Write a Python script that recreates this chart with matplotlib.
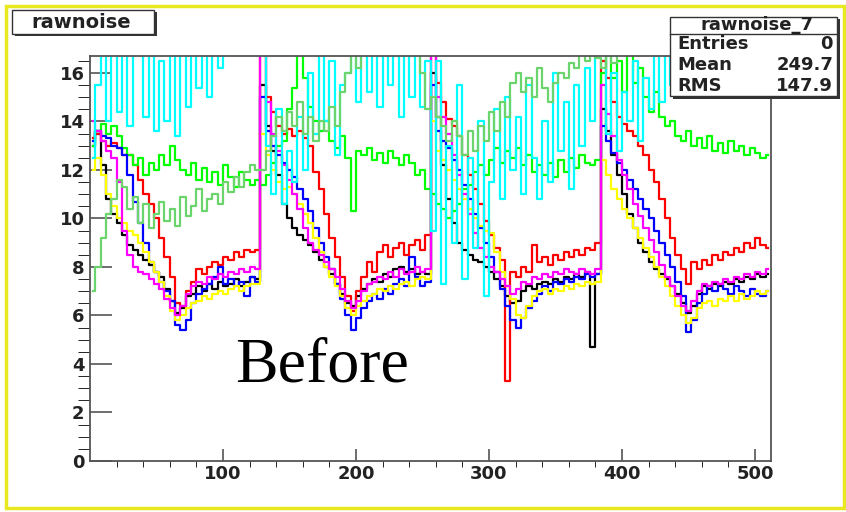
import numpy as np
import matplotlib.pyplot as plt
from matplotlib.patches import Rectangle

# bin centres, 4 strips per bin, 512 strips
channel = np.arange(2, 512, 4)

# one value per bin, four chips of 32 bins each
black = (
    [13.0, 13.6, 12.2, 10.8, 10.2, 9.8, 9.3, 8.9, 8.7, 8.5, 8.3, 8.1, 7.8, 7.6, 7.1, 6.6,
     6.1, 6.3, 6.8, 6.9, 7.2, 7.0, 7.3, 7.1, 7.4, 7.2, 7.3, 7.5, 7.2, 7.4, 7.6, 7.5]
    + [15.5, 13.8, 12.8, 11.8, 10.6, 10.0, 9.6, 9.3, 9.1, 8.9, 8.6, 8.3, 8.0, 7.7, 7.3, 6.9,
       6.5, 6.4, 6.8, 7.1, 7.3, 7.5, 7.4, 7.7, 7.6, 7.9, 8.0, 7.8, 7.9, 7.7, 7.8, 7.7]
    + [16.0, 14.2, 12.2, 10.8, 9.8, 9.0, 8.7, 8.5, 8.3, 8.2, 8.0, 7.8, 7.5, 7.2, 6.8, 6.5,
       6.6, 7.0, 7.2, 7.1, 7.3, 7.4, 7.3, 7.5, 7.4, 7.6, 7.5, 7.7, 7.6, 7.8, 4.7, 7.7]
    + [14.5, 13.6, 12.6, 11.8, 11.0, 10.2, 9.6, 9.0, 8.6, 8.2, 7.9, 7.7, 7.5, 7.2, 6.9, 6.5,
       6.1, 6.4, 6.9, 7.2, 7.1, 7.3, 7.2, 7.4, 7.3, 7.5, 7.4, 7.6, 7.5, 7.7, 7.6, 7.7]
)
red = (
    [13.3, 13.5, 13.2, 13.0, 13.1, 12.9, 12.6, 12.6, 12.2, 11.6, 11.0, 10.6, 10.0, 9.2, 8.4, 7.6,
     6.5, 6.4, 7.0, 7.4, 7.9, 7.7, 8.0, 8.2, 8.1, 8.4, 8.3, 8.6, 8.4, 8.7, 8.6, 8.7]
    + [16.8, 15.0, 14.4, 13.8, 13.5, 13.7, 13.4, 13.6, 13.3, 13.0, 11.9, 11.2, 10.2, 9.2, 8.4, 7.6,
       6.8, 6.2, 7.0, 7.6, 8.2, 7.8, 8.6, 8.9, 8.4, 8.8, 9.0, 8.5, 8.9, 9.1, 8.7, 9.3]
    + [16.8, 15.6, 14.8, 14.1, 13.8, 13.4, 12.6, 11.8, 11.2, 10.6, 9.9, 9.3, 8.8, 8.3, 3.3, 7.8,
       7.6, 8.0, 7.8, 8.9, 8.2, 8.4, 8.1, 8.5, 8.3, 8.6, 8.4, 8.7, 8.5, 8.8, 8.7, 9.0]
    + [16.5, 15.8, 14.8, 14.2, 13.9, 13.6, 13.4, 13.0, 12.6, 12.0, 11.5, 10.8, 10.0, 9.2, 8.5, 7.9,
       7.3, 8.2, 7.9, 8.3, 8.1, 8.5, 8.3, 8.6, 8.5, 8.8, 8.6, 9.0, 8.8, 9.2, 8.9, 8.8]
)
green = (
    [13.0, 13.6, 13.9, 13.5, 13.8, 13.4, 12.9, 12.6, 12.2, 12.5, 11.8, 12.3, 12.0, 12.6, 12.2, 13.0,
     12.4, 12.0, 11.8, 12.3, 11.6, 12.1, 11.5, 11.9, 11.4, 12.2, 11.7, 11.3, 11.9, 11.6, 11.4, 11.6]
    + [11.4, 11.8, 12.3, 13.0, 13.2, 14.5, 15.4, 16.8, 15.8, 14.6, 14.0, 13.6, 14.0, 13.2, 12.9, 13.4,
       12.5, 10.3, 12.8, 12.6, 12.9, 12.4, 12.7, 12.3, 12.8, 12.5, 12.2, 12.6, 12.3, 11.8, 12.0, 11.2]
    + [11.0, 10.6, 10.4, 10.0, 10.3, 10.6, 11.2, 11.4, 11.9, 12.2, 11.8, 12.4, 12.9, 12.3, 12.8, 12.5,
       12.9, 12.2, 12.6, 11.9, 12.2, 11.8, 12.3, 11.7, 12.4, 11.9, 12.5, 12.1, 12.6, 12.3, 12.2, 12.4]
    + [16.0, 17.0, 15.8, 16.5, 15.2, 16.8, 15.6, 16.2, 15.0, 14.4, 15.2, 14.2, 13.8, 14.0, 13.4, 13.2,
       13.6, 13.0, 13.3, 12.9, 13.4, 12.8, 13.1, 12.7, 13.2, 12.8, 13.0, 12.6, 12.9, 12.7, 12.5, 12.6]
)
blue = (
    [13.2, 13.6, 13.4, 13.3, 13.0, 12.9, 12.6, 11.8, 10.7, 9.8, 9.0, 8.2, 7.8, 7.4, 7.0, 6.6,
     5.6, 5.4, 5.8, 6.5, 6.9, 7.1, 7.3, 7.6, 8.0, 7.3, 7.5, 7.2, 7.4, 6.8, 7.6, 7.4]
    + [15.0, 13.6, 13.0, 12.6, 12.3, 12.0, 11.7, 11.2, 10.8, 10.3, 9.6, 9.0, 8.4, 7.9, 7.3, 6.7,
       6.0, 5.4, 5.9, 6.3, 6.6, 6.9, 6.7, 7.1, 6.9, 7.3, 7.5, 7.2, 8.4, 7.6, 7.2, 7.4]
    + [15.5, 13.6, 13.2, 12.9, 12.4, 12.0, 11.4, 10.8, 10.2, 9.6, 9.0, 8.4, 7.8, 7.1, 6.4, 5.8,
       5.5, 5.9, 6.3, 6.6, 6.9, 7.2, 7.0, 7.4, 7.3, 7.5, 7.4, 7.6, 7.5, 7.7, 7.6, 7.7]
    + [13.8, 13.2, 12.7, 12.3, 12.0, 11.6, 11.2, 10.8, 10.4, 10.0, 9.5, 9.0, 8.5, 8.0, 7.4, 6.8,
       5.3, 5.8, 6.5, 6.9, 7.2, 7.0, 7.3, 7.1, 6.9, 7.2, 7.0, 6.8, 7.1, 6.9, 6.8, 7.0]
)
yellow = (
    [12.0, 12.5, 11.8, 11.0, 10.5, 10.0, 9.8, 9.5, 9.3, 9.0, 8.6, 8.2, 7.8, 7.4, 6.8, 6.2,
     5.8, 6.0, 6.3, 6.5, 6.6, 6.8, 6.7, 6.9, 7.0, 6.9, 7.1, 7.2, 7.0, 7.2, 7.3, 7.3]
    + [13.5, 12.6, 12.0, 11.5, 11.2, 11.3, 11.0, 10.6, 10.2, 9.8, 9.2, 8.6, 8.0, 7.6, 7.2, 6.8,
       6.3, 6.0, 6.4, 6.6, 6.8, 6.9, 7.1, 7.0, 7.2, 7.1, 7.3, 7.4, 7.2, 7.5, 7.6, 7.5]
    + [14.0, 12.8, 12.4, 12.0, 11.6, 11.2, 10.8, 10.4, 10.0, 9.7, 9.5, 9.4, 8.6, 7.8, 7.2, 6.7,
       6.0, 5.9, 6.4, 6.8, 7.0, 7.1, 6.9, 7.1, 7.0, 7.2, 7.1, 7.3, 7.2, 7.4, 7.3, 7.4]
    + [12.4, 11.8, 11.2, 10.8, 10.4, 10.0, 9.6, 9.2, 8.8, 8.4, 8.0, 7.6, 7.2, 6.8, 6.4, 6.0,
       5.7, 5.9, 6.3, 6.5, 6.6, 6.4, 6.7, 6.6, 6.8, 6.6, 6.9, 6.7, 6.8, 7.0, 6.9, 7.0]
)
magenta = (
    [14.0, 13.6, 13.2, 12.8, 12.5, 11.5, 9.5, 8.5, 8.0, 7.8, 7.7, 7.5, 7.3, 7.1, 6.7, 6.3,
     6.0, 6.4, 6.9, 7.2, 7.4, 7.3, 7.6, 7.5, 7.7, 7.6, 7.8, 7.7, 7.9, 7.8, 8.0, 7.9]
    + [17.5, 14.8, 13.5, 12.8, 12.2, 11.6, 11.0, 10.4, 9.6, 9.0, 8.7, 8.5, 8.2, 7.9, 7.6, 7.1,
       6.6, 6.3, 6.6, 7.0, 7.3, 7.4, 7.6, 7.5, 7.8, 7.6, 7.9, 7.7, 7.8, 8.0, 7.8, 7.9]
    + [17.5, 15.0, 14.2, 13.5, 12.6, 11.8, 11.0, 10.2, 9.4, 8.8, 8.4, 8.0, 7.8, 7.5, 7.2, 6.9,
       7.1, 7.4, 7.3, 7.6, 7.5, 7.7, 7.6, 7.8, 7.7, 7.9, 7.8, 7.7, 7.9, 7.8, 7.7, 7.9]
    + [15.5, 14.3, 13.4, 12.4, 11.8, 11.2, 10.6, 10.1, 9.6, 9.1, 8.6, 8.1, 7.6, 7.2, 6.8, 6.4,
       6.2, 6.6, 7.0, 7.3, 7.2, 7.4, 7.3, 7.5, 7.4, 7.6, 7.5, 7.7, 7.6, 7.8, 7.7, 7.9]
)
cyan = (
    [12.5, 15.5, 17.5, 14.0, 16.8, 14.4, 17.5, 13.8, 17.5, 18.0, 14.2, 17.0, 13.6, 16.5, 14.0, 17.0,
     13.4, 17.0, 14.6, 17.5, 15.4, 17.5, 15.0, 17.5, 16.2, 18.0, 17.5, 18.5, 18.0, 18.5, 19.0, 18.5]
    + [18.0, 13.0, 11.0, 14.5, 10.6, 12.8, 11.5, 14.2, 12.0, 16.0, 13.5, 17.0, 14.0, 16.5, 12.6, 15.5,
       16.0, 17.5, 14.8, 17.0, 15.2, 17.5, 14.6, 16.8, 15.5, 17.5, 14.2, 17.0, 15.0, 17.5, 14.6, 16.5]
    + [9.5, 16.5, 7.3, 13.0, 9.0, 15.5, 7.5, 12.5, 8.8, 14.0, 6.8, 11.5, 14.5, 10.8, 15.0, 12.0,
       14.2, 11.0, 15.5, 12.5, 10.8, 14.0, 11.5, 16.0, 12.8, 14.8, 11.2, 15.5, 13.0, 16.2, 14.0, 17.0]
    + [17.0, 13.5, 16.0, 12.8, 15.2, 14.0, 16.5, 13.2, 15.8, 14.5, 16.8, 14.8, 17.0, 15.5, 18.0, 16.5,
       19.0, 19.0, 19.0, 19.0, 19.0, 19.0, 19.0, 19.0, 19.0, 19.0, 19.0, 19.0, 19.0, 19.0, 19.0, 19.0]
)
palegreen = (
    [7.0, 8.0, 9.2, 10.2, 10.8, 11.6, 11.3, 10.4, 10.9, 9.8, 10.6, 9.6, 10.2, 10.7, 9.9, 10.4,
     9.7, 10.9, 10.1, 10.5, 11.2, 10.3, 10.8, 11.0, 10.6, 11.5, 11.1, 11.7, 11.3, 11.9, 12.2, 12.0]
    + [12.0, 12.8, 13.4, 14.2, 13.6, 14.4, 13.8, 14.8, 13.5, 14.2, 13.2, 14.0, 13.6, 14.6, 13.8, 15.2,
       16.0, 17.0, 16.2, 17.5, 17.0, 18.0, 17.5, 18.0, 17.2, 18.5, 18.0, 17.5, 18.0, 17.0, 16.0, 14.5]
    + [15.0, 14.2, 13.8, 13.2, 14.0, 13.4, 12.6, 13.6, 12.8, 13.8, 13.2, 14.4, 13.6, 14.8, 14.2, 15.6,
       16.0, 15.2, 15.8, 15.0, 16.2, 15.4, 14.8, 15.6, 16.0, 15.8, 16.4, 16.2, 16.8, 16.5, 17.0, 16.6]
    + [16.2, 17.0, 16.4, 17.5, 17.0, 18.0, 17.5, 18.0, 18.0, 18.5, 18.0, 18.5, 18.0, 18.5, 18.0, 18.5,
       18.0, 18.0, 18.0, 18.0, 18.0, 18.0, 18.0, 18.0, 18.0, 18.0, 18.0, 18.0, 18.0, 18.0, 18.0, 18.0]
)

# ROOT colour indices 1..8, drawn in that order
series = [
    (black, '#000000'),
    (red, '#ff0000'),
    (green, '#00ff00'),
    (blue, '#0000ff'),
    (yellow, '#ffff00'),
    (magenta, '#ff00ff'),
    (cyan, '#00ffff'),
    (palegreen, '#6cd46c'),
]

W, H = 846, 512
FONT = 'DejaVu Sans'


def fx(x):
    return x / W


def fy(y):
    return 1 - y / H


fig = plt.figure(figsize=(W / 100, H / 100), dpi=100)
fig.patch.set_facecolor('white')

# yellow pad border
fig.add_artist(Rectangle((fx(6), fy(508)), fx(838), 502 / H, transform=fig.transFigure,
                         fill=False, edgecolor='#e8e820', lw=2.5))

ax = fig.add_axes([fx(90), fy(461), fx(771 - 90), (461 - 56) / H])
for vals, col in series:
    ax.plot(channel, vals, drawstyle='steps-mid', color=col, lw=1.6)

ax.set_xlim(0, 512)
ax.set_ylim(0, 16.7)
ax.set_xticks([100, 200, 300, 400, 500])
ax.set_xticks(np.arange(20, 512, 20), minor=True)
ax.set_yticks(np.arange(0, 17, 2))
ax.set_yticks(np.arange(0, 16.7, 0.5), minor=True)
ax.tick_params(direction='in', color='#555555', width=1.2)
ax.tick_params(axis='y', which='major', length=16, pad=4)
ax.tick_params(axis='y', which='minor', length=9)
ax.tick_params(axis='x', which='major', length=9, pad=3)
ax.tick_params(axis='x', which='minor', length=4)
ax.tick_params(right=False, top=False, which='both')
for lab in ax.get_xticklabels() + ax.get_yticklabels():
    lab.set_fontfamily(FONT)
    lab.set_fontweight('bold')
    lab.set_fontsize(13)
    lab.set_color('#222222')
for s in ax.spines.values():
    s.set_color('#555555')
    s.set_linewidth(1.3)

# title box
fig.add_artist(Rectangle((fx(15), fy(36)), fx(142), 24 / H, transform=fig.transFigure,
                         facecolor='#333333', edgecolor='none'))
fig.add_artist(Rectangle((fx(12), fy(34)), fx(142), 24 / H, transform=fig.transFigure,
                         facecolor='white', edgecolor='#333333', lw=1))
fig.text(fx(81), fy(22), 'rawnoise', ha='center', va='center', fontsize=14,
         fontweight='bold', family=FONT, color='#222222')

# stats box
fig.add_artist(Rectangle((fx(673), fy(99)), fx(167), 80 / H, transform=fig.transFigure,
                         facecolor='#333333', edgecolor='none'))
fig.add_artist(Rectangle((fx(670), fy(96)), fx(167), 79 / H, transform=fig.transFigure,
                         facecolor='white', edgecolor='#333333', lw=1))
fig.add_artist(plt.Line2D([fx(670), fx(837)], [fy(34), fy(34)], transform=fig.transFigure,
                          color='#333333', lw=1))
fig.text(fx(757), fy(25), 'rawnoise_7', ha='center', va='center', fontsize=13,
         fontweight='bold', family=FONT, color='#222222')
stats = [('Entries', '0'), ('Mean', '249.7'), ('RMS', '147.9')]
for i, (k, v) in enumerate(stats):
    yy = fy(44 + i * 21)
    fig.text(fx(677), yy, k, ha='left', va='center', fontsize=13, fontweight='bold',
             family=FONT, color='#222222')
    fig.text(fx(833), yy, v, ha='right', va='center', fontsize=13, fontweight='bold',
             family=FONT, color='#222222')

fig.text(fx(235), fy(382), 'Before', ha='left', va='baseline', fontsize=46,
         family='Liberation Serif', color='black')

fig.savefig('out.png', dpi=100)
